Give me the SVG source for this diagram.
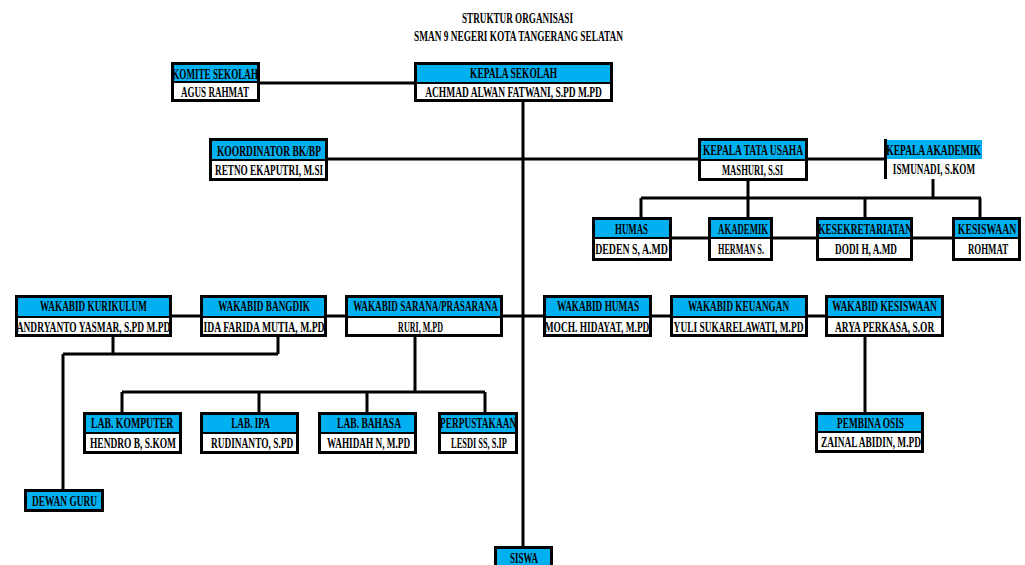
<svg xmlns="http://www.w3.org/2000/svg" width="1025" height="565" viewBox="0 0 1025 565">
<style>
text{font-family:"Liberation Serif","Times New Roman",serif;font-weight:bold;font-size:14px;fill:#000;text-anchor:middle;transform-box:fill-box;transform-origin:center;transform:scaleX(0.68)}
text.t{font-size:15px;transform:scaleX(0.62)}
.hd{fill:#00B0F0}
.bd{fill:#fff}
.ol{fill:none;stroke:#000;stroke-width:3}
.dv{stroke:#000;stroke-width:2}
#connectors path{fill:none;stroke:#000;stroke-width:3}
</style>
<rect width="1025" height="565" fill="#fff"/>
<g id="title">
<text class="t" x="517.5" y="23" textLength="179" lengthAdjust="spacingAndGlyphs">STRUKTUR ORGANISASI</text>
<text class="t" x="518.5" y="41" textLength="337" lengthAdjust="spacingAndGlyphs">SMAN 9 NEGERI KOTA TANGERANG SELATAN</text>
</g>
<g id="connectors">
<path d="M260 83H414"/>
<path d="M523 102V546"/>
<path d="M328 159H884"/>
<path d="M748 181V217M933 179V198M641 198H981M641 198V217M865 198V217M980 198V217"/>
<path d="M592 238H1021"/>
<path d="M172 316H825"/>
<path d="M113 337V354M278 337V354M63 354H278M63 354V489"/>
<path d="M415 337V392M122 392H485M122 392V412M259 392V412M367 392V412M485 392V412"/>
<path d="M865 337V412"/>
</g>
<g id="komite">
<rect class="hd" x="172" y="63" width="87" height="19"/><rect class="bd" x="172" y="82" width="87" height="19"/>
<rect class="ol" x="172.5" y="63.5" width="86" height="37"/><path class="dv" d="M171 82H260"/>
<text x="215" y="79" textLength="126" lengthAdjust="spacingAndGlyphs">KOMITE SEKOLAH</text>
<text x="215" y="97" textLength="100" lengthAdjust="spacingAndGlyphs">AGUS RAHMAT</text>
</g>
<g id="kepala-sekolah">
<rect class="hd" x="415" y="63" width="197" height="20"/><rect class="bd" x="415" y="83" width="197" height="18"/>
<rect class="ol" x="415.5" y="63.5" width="196" height="37"/><path class="dv" d="M414 83H613"/>
<text x="513.5" y="78" textLength="128" lengthAdjust="spacingAndGlyphs">KEPALA SEKOLAH</text>
<text x="513.5" y="97" textLength="260" lengthAdjust="spacingAndGlyphs">ACHMAD ALWAN FATWANI, S.PD M.PD</text>
</g>
<g id="koordinator">
<rect class="hd" x="210" y="139" width="117" height="21"/><rect class="bd" x="210" y="160" width="117" height="20"/>
<rect class="ol" x="210.5" y="139.5" width="116" height="40"/><path class="dv" d="M209 160H328"/>
<text x="269" y="156" textLength="153" lengthAdjust="spacingAndGlyphs">KOORDINATOR BK/BP</text>
<text x="269" y="175" textLength="159" lengthAdjust="spacingAndGlyphs">RETNO EKAPUTRI, M.SI</text>
</g>
<g id="tata-usaha">
<rect class="hd" x="699" y="139" width="108" height="21"/><rect class="bd" x="699" y="160" width="108" height="20"/>
<rect class="ol" x="699.5" y="139.5" width="107" height="40"/><path class="dv" d="M698 160H808"/>
<text x="753" y="155" textLength="147" lengthAdjust="spacingAndGlyphs">KEPALA TATA USAHA</text>
<text x="752.5" y="175" textLength="90" lengthAdjust="spacingAndGlyphs">MASHURI, S.SI</text>
</g>
<g id="kepala-akademik">
<rect class="hd" x="884" y="140" width="98" height="19"/>
<path d="M885.5 139V179" stroke="#000" stroke-width="3"/>
<text x="933.5" y="155" textLength="139" lengthAdjust="spacingAndGlyphs">KEPALA AKADEMIK</text>
<text x="934" y="174" textLength="121" lengthAdjust="spacingAndGlyphs">ISMUNADI, S.KOM</text>
</g>
<g id="humas">
<rect class="hd" x="593" y="218" width="78" height="20"/><rect class="bd" x="593" y="238" width="78" height="22"/>
<rect class="ol" x="593.5" y="218.5" width="77" height="41"/><path class="dv" d="M592 238H672"/>
<text x="631.5" y="234" textLength="48.5" lengthAdjust="spacingAndGlyphs">HUMAS</text>
<text x="631.5" y="254" textLength="107" lengthAdjust="spacingAndGlyphs">DEDEN S, A.MD</text>
</g>
<g id="akademik">
<rect class="hd" x="709" y="218" width="63" height="20"/><rect class="bd" x="709" y="238" width="63" height="22"/>
<rect class="ol" x="709.5" y="218.5" width="62" height="41"/><path class="dv" d="M708 238H773"/>
<text x="743" y="234" textLength="73.5" lengthAdjust="spacingAndGlyphs">AKADEMIK</text>
<text x="741" y="254" textLength="67.6" lengthAdjust="spacingAndGlyphs">HERMAN S.</text>
</g>
<g id="kesekretariatan">
<rect class="hd" x="817" y="218" width="95" height="20"/><rect class="bd" x="817" y="238" width="95" height="22"/>
<rect class="ol" x="817.5" y="218.5" width="94" height="41"/><path class="dv" d="M816 238H913"/>
<text x="865" y="234" textLength="138" lengthAdjust="spacingAndGlyphs">KESEKRETARIATAN</text>
<text x="866" y="254" textLength="91" lengthAdjust="spacingAndGlyphs">DODI H, A.MD</text>
</g>
<g id="kesiswaan">
<rect class="hd" x="953" y="218" width="67" height="20"/><rect class="bd" x="953" y="238" width="67" height="22"/>
<rect class="ol" x="953.5" y="218.5" width="66" height="41"/><path class="dv" d="M952 238H1021"/>
<text x="987" y="234" textLength="86" lengthAdjust="spacingAndGlyphs">KESISWAAN</text>
<text x="988" y="254" textLength="59" lengthAdjust="spacingAndGlyphs">ROHMAT</text>
</g>
<g id="wakabid-kurikulum">
<rect class="hd" x="16" y="296" width="155" height="21"/><rect class="bd" x="16" y="317" width="155" height="19"/>
<rect class="ol" x="16.5" y="296.5" width="154" height="39"/><path class="dv" d="M15 317H172"/>
<text x="93.5" y="311" textLength="157" lengthAdjust="spacingAndGlyphs">WAKABID KURIKULUM</text>
<text x="93.5" y="332" textLength="226" lengthAdjust="spacingAndGlyphs">ANDRYANTO YASMAR, S.PD M.PD</text>
</g>
<g id="wakabid-bangdik">
<rect class="hd" x="201" y="296" width="125" height="21"/><rect class="bd" x="201" y="317" width="125" height="19"/>
<rect class="ol" x="201.5" y="296.5" width="124" height="39"/><path class="dv" d="M200 317H327"/>
<text x="264" y="311" textLength="135" lengthAdjust="spacingAndGlyphs">WAKABID BANGDIK</text>
<text x="264" y="332" textLength="178" lengthAdjust="spacingAndGlyphs">IDA FARIDA MUTIA, M.PD</text>
</g>
<g id="wakabid-sarana">
<rect class="hd" x="346" y="296" width="156" height="21"/><rect class="bd" x="346" y="317" width="156" height="19"/>
<rect class="ol" x="346.5" y="296.5" width="155" height="39"/><path class="dv" d="M345 317H503"/>
<text x="425.5" y="311" textLength="213" lengthAdjust="spacingAndGlyphs">WAKABID SARANA/PRASARANA</text>
<text x="420.5" y="332" textLength="66" lengthAdjust="spacingAndGlyphs">RURI, M.PD</text>
</g>
<g id="wakabid-humas">
<rect class="hd" x="544" y="296" width="107" height="21"/><rect class="bd" x="544" y="317" width="107" height="19"/>
<rect class="ol" x="544.5" y="296.5" width="106" height="39"/><path class="dv" d="M543 317H652"/>
<text x="598" y="311" textLength="121" lengthAdjust="spacingAndGlyphs">WAKABID HUMAS</text>
<text x="597" y="332" textLength="154" lengthAdjust="spacingAndGlyphs">MOCH. HIDAYAT, M.PD</text>
</g>
<g id="wakabid-keuangan">
<rect class="hd" x="671" y="296" width="136" height="21"/><rect class="bd" x="671" y="317" width="136" height="19"/>
<rect class="ol" x="671.5" y="296.5" width="135" height="39"/><path class="dv" d="M670 317H808"/>
<text x="738.5" y="311" textLength="148.5" lengthAdjust="spacingAndGlyphs">WAKABID KEUANGAN</text>
<text x="738.5" y="332" textLength="191" lengthAdjust="spacingAndGlyphs">YULI SUKARELAWATI, M.PD</text>
</g>
<g id="wakabid-kesiswaan">
<rect class="hd" x="826" y="296" width="117" height="21"/><rect class="bd" x="826" y="317" width="117" height="19"/>
<rect class="ol" x="826.5" y="296.5" width="116" height="39"/><path class="dv" d="M825 317H944"/>
<text x="884.5" y="311" textLength="154" lengthAdjust="spacingAndGlyphs">WAKABID KESISWAAN</text>
<text x="884.5" y="332" textLength="146" lengthAdjust="spacingAndGlyphs">ARYA PERKASA, S.OR</text>
</g>
<g id="lab-komputer">
<rect class="hd" x="84" y="413" width="97" height="20"/><rect class="bd" x="84" y="433" width="97" height="20"/>
<rect class="ol" x="84.5" y="413.5" width="96" height="39"/><path class="dv" d="M83 433H182"/>
<text x="132" y="428" textLength="121" lengthAdjust="spacingAndGlyphs">LAB. KOMPUTER</text>
<text x="133" y="448" textLength="126.5" lengthAdjust="spacingAndGlyphs">HENDRO B, S.KOM</text>
</g>
<g id="lab-ipa">
<rect class="hd" x="201" y="413" width="97" height="20"/><rect class="bd" x="201" y="433" width="97" height="20"/>
<rect class="ol" x="201.5" y="413.5" width="96" height="39"/><path class="dv" d="M200 433H299"/>
<text x="250.5" y="428" textLength="57" lengthAdjust="spacingAndGlyphs">LAB. IPA</text>
<text x="252" y="448" textLength="121" lengthAdjust="spacingAndGlyphs">RUDINANTO, S.PD</text>
</g>
<g id="lab-bahasa">
<rect class="hd" x="319" y="413" width="97" height="20"/><rect class="bd" x="319" y="433" width="97" height="20"/>
<rect class="ol" x="319.5" y="413.5" width="96" height="39"/><path class="dv" d="M318 433H417"/>
<text x="369" y="428" textLength="94" lengthAdjust="spacingAndGlyphs">LAB. BAHASA</text>
<text x="368.5" y="448" textLength="122" lengthAdjust="spacingAndGlyphs">WAHIDAH N, M.PD</text>
</g>
<g id="perpustakaan">
<rect class="hd" x="439" y="413" width="78" height="20"/><rect class="bd" x="439" y="433" width="78" height="20"/>
<rect class="ol" x="439.5" y="413.5" width="77" height="39"/><path class="dv" d="M438 433H518"/>
<text x="478" y="428" textLength="112" lengthAdjust="spacingAndGlyphs">PERPUSTAKAAN</text>
<text x="479" y="448" textLength="82" lengthAdjust="spacingAndGlyphs">LESDI SS, S.IP</text>
</g>
<g id="pembina-osis">
<rect class="hd" x="816" y="413" width="107" height="19"/><rect class="bd" x="816" y="432" width="107" height="20"/>
<rect class="ol" x="816.5" y="413.5" width="106" height="38"/><path class="dv" d="M815 432H924"/>
<text x="870.5" y="428" textLength="98.5" lengthAdjust="spacingAndGlyphs">PEMBINA OSIS</text>
<text x="871" y="447" textLength="147" lengthAdjust="spacingAndGlyphs">ZAINAL ABIDIN, M.PD</text>
</g>
<g id="dewan-guru">
<rect class="hd" x="25" y="490" width="78" height="21"/>
<rect class="ol" x="25.5" y="490.5" width="77" height="20"/>
<text x="64.5" y="506" textLength="95.6" lengthAdjust="spacingAndGlyphs">DEWAN GURU</text>
</g>
<g id="siswa">
<rect class="hd" x="495" y="547" width="57" height="22"/>
<rect class="ol" x="495.5" y="547.5" width="56" height="22"/>
<text x="524" y="563" textLength="41" lengthAdjust="spacingAndGlyphs">SISWA</text>
</g>
</svg>
